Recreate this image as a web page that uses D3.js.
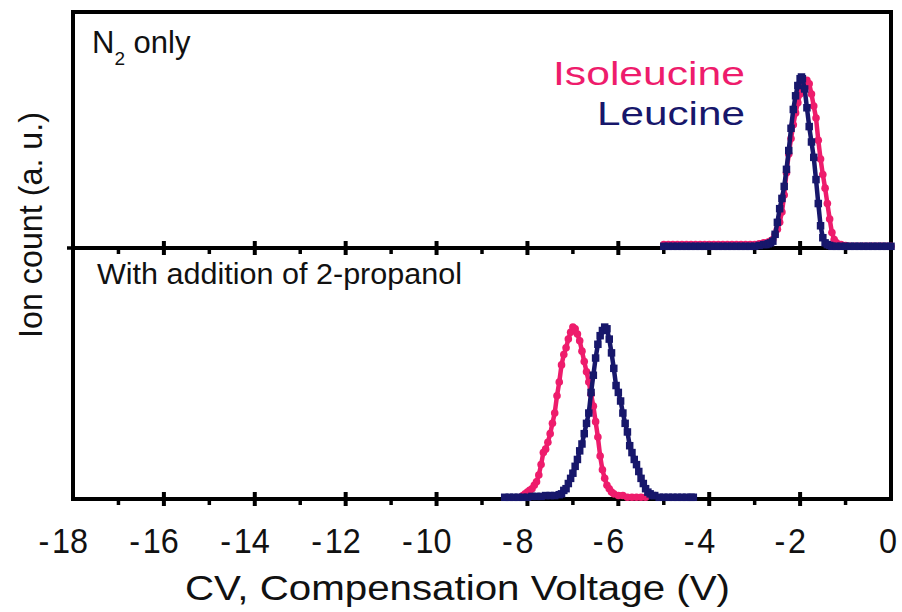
<!DOCTYPE html>
<html>
<head>
<meta charset="utf-8">
<script src="https://cdn.jsdelivr.net/npm/d3@7"></script>
<style>
  body { margin: 0; background: #fff; }
  svg { display: block; }
  text { font-family: "Liberation Sans", Arial, sans-serif; }
</style>
</head>
<body>
<svg id="chart" width="902" height="612"></svg>
<script>
// Compensation-voltage axis
const majorTicks = [-18, -16, -14, -12, -10, -8, -6, -4, -2, 0];
const minorTicks = [-17, -15, -13, -11, -9, -7, -5, -3, -1];
const tickLabels = ["-18", "-16", "-14", "-12", "-10", "-8", "-6", "-4", "-2", "0"];

// Series names
const seriesNames = ["Isoleucine", "Leucine"];
const panelTitles = ["only", "With addition of 2-propanol"];

// N2 only: [CV (V), normalised ion count]
const n2Isoleucine = [
  [-5.0,0.02],[-4.9,0.02],[-4.8,0.02],[-4.7,0.02],[-4.6,0.02],[-4.5,0.02],[-4.4,0.02],[-4.3,0.02],
  [-4.2,0.02],[-4.1,0.02],[-4.0,0.02],[-3.9,0.02],[-3.8,0.02],[-3.7,0.02],[-3.6,0.02],[-3.5,0.02],
  [-3.4,0.02],[-3.3,0.02],[-3.2,0.02],[-3.1,0.02],[-3.0,0.02],[-2.9,0.025],[-2.8,0.03],[-2.7,0.035],
  [-2.65,0.04],[-2.6,0.05],[-2.55,0.08],[-2.5,0.11],[-2.45,0.15],[-2.4,0.21],[-2.35,0.31],[-2.3,0.44],
  [-2.25,0.55],[-2.2,0.64],[-2.15,0.72],[-2.1,0.79],[-2.05,0.85],[-2.0,0.90],[-1.95,0.94],[-1.9,0.97],
  [-1.85,0.98],[-1.8,0.96],[-1.75,0.90],[-1.7,0.83],[-1.65,0.76],[-1.6,0.63],[-1.55,0.52],[-1.5,0.43],
  [-1.45,0.35],[-1.4,0.26],[-1.35,0.17],[-1.3,0.09],[-1.25,0.05],[-1.2,0.03],[-1.1,0.02],[-1.0,0.015],
  [-0.9,0.01],[-0.8,0.01],[-0.7,0.01],[-0.6,0.01],[-0.5,0.01],[-0.4,0.01],[-0.3,0.01],[-0.2,0.01],
  [-0.1,0.01],[0.0,0.01]
];
const n2Leucine = [
  [-5.0,0.01],[-4.9,0.01],[-4.8,0.01],[-4.7,0.01],[-4.6,0.01],[-4.5,0.01],[-4.4,0.01],[-4.3,0.01],
  [-4.2,0.01],[-4.1,0.01],[-4.0,0.01],[-3.9,0.01],[-3.8,0.01],[-3.7,0.01],[-3.6,0.01],[-3.5,0.01],
  [-3.4,0.01],[-3.3,0.01],[-3.2,0.01],[-3.1,0.01],[-3.0,0.01],[-2.9,0.015],[-2.8,0.02],[-2.75,0.02],
  [-2.7,0.025],[-2.65,0.03],[-2.6,0.04],[-2.55,0.08],[-2.5,0.15],[-2.45,0.23],[-2.4,0.29],[-2.35,0.36],
  [-2.3,0.46],[-2.25,0.57],[-2.2,0.70],[-2.15,0.81],[-2.1,0.89],[-2.05,0.95],[-2.0,0.99],[-1.97,1.0],
  [-1.95,0.99],[-1.9,0.93],[-1.85,0.82],[-1.8,0.71],[-1.75,0.62],[-1.7,0.53],[-1.65,0.40],[-1.6,0.26],
  [-1.55,0.13],[-1.5,0.06],[-1.45,0.03],[-1.4,0.02],[-1.35,0.015],[-1.3,0.01],[-1.2,0.01],[-1.1,0.01],
  [-1.0,0.01],[-0.9,0.01],[-0.8,0.01],[-0.7,0.01],[-0.6,0.01],[-0.5,0.01],[-0.4,0.01],[-0.3,0.01],
  [-0.2,0.01],[-0.1,0.01],[0.0,0.01]
];

// With 2-propanol modifier
const propIsoleucine = [
  [-8.15,0.01],[-8.1,0.02],[-8.05,0.03],[-8.0,0.04],[-7.95,0.05],[-7.9,0.06],[-7.85,0.08],[-7.8,0.10],
  [-7.75,0.14],[-7.7,0.20],[-7.65,0.27],[-7.6,0.29],[-7.55,0.33],[-7.5,0.38],[-7.45,0.44],[-7.4,0.50],
  [-7.35,0.60],[-7.3,0.68],[-7.25,0.78],[-7.2,0.84],[-7.15,0.88],[-7.1,0.93],[-7.05,0.97],[-7.0,1.0],
  [-6.95,0.99],[-6.9,0.96],[-6.85,0.92],[-6.8,0.86],[-6.75,0.80],[-6.7,0.74],[-6.65,0.68],[-6.6,0.61],
  [-6.55,0.54],[-6.5,0.45],[-6.45,0.36],[-6.4,0.25],[-6.35,0.17],[-6.3,0.12],[-6.25,0.08],[-6.2,0.06],
  [-6.15,0.04],[-6.1,0.03],[-6.0,0.02],[-5.9,0.02],[-5.8,0.01],[-5.7,0.01],[-5.6,0.01],[-5.5,0.01],
  [-5.4,0.01]
];
const propLeucine = [
  [-8.5,0.01],[-8.4,0.01],[-8.3,0.01],[-8.2,0.01],[-8.1,0.01],[-8.0,0.01],[-7.9,0.015],[-7.8,0.015],
  [-7.7,0.015],[-7.6,0.02],[-7.5,0.02],[-7.4,0.02],[-7.3,0.025],[-7.25,0.03],[-7.2,0.05],[-7.15,0.06],
  [-7.1,0.09],[-7.05,0.12],[-7.0,0.15],[-6.95,0.19],[-6.9,0.23],[-6.85,0.28],[-6.8,0.32],[-6.75,0.38],
  [-6.7,0.44],[-6.65,0.50],[-6.6,0.62],[-6.55,0.72],[-6.5,0.82],[-6.45,0.90],[-6.4,0.95],[-6.35,0.98],
  [-6.3,1.0],[-6.25,0.99],[-6.2,0.93],[-6.15,0.85],[-6.1,0.76],[-6.05,0.66],[-6.0,0.62],[-5.95,0.57],
  [-5.9,0.50],[-5.85,0.44],[-5.8,0.39],[-5.75,0.31],[-5.7,0.27],[-5.65,0.23],[-5.6,0.20],[-5.55,0.16],
  [-5.5,0.12],[-5.45,0.09],[-5.4,0.06],[-5.35,0.04],[-5.3,0.03],[-5.25,0.02],[-5.2,0.02],[-5.1,0.01],
  [-5.0,0.01],[-4.9,0.01],[-4.8,0.01],[-4.7,0.01],[-4.6,0.01],[-4.5,0.01],[-4.4,0.01],[-4.35,0.01]
];

const PINK = "#ee1c6c";
const NAVY = "#17176b";

const svg = d3.select("#chart");

const plotLeft = 73, plotRight = 891, plotTop = 12, plotMid = 248, plotBottom = 499;

const x = d3.scaleLinear().domain([-18, 0]).range([plotLeft, plotRight]);
const yTop = d3.scaleLinear().domain([0, 1.38]).range([plotMid, plotTop]);
const yBot = d3.scaleLinear().domain([0, 1.46]).range([plotBottom, plotMid]);

// Frame
svg.append("rect")
  .attr("x", plotLeft).attr("y", plotTop)
  .attr("width", plotRight - plotLeft).attr("height", plotBottom - plotTop)
  .attr("fill", "none").attr("stroke", "#000").attr("stroke-width", 4);

// Horizontal axes (panel divider and bottom axis) with crossing major ticks
[plotMid, plotBottom].forEach(yy => {
  const g = svg.append("g");
  g.append("line")
    .attr("x1", plotLeft).attr("x2", plotRight).attr("y1", yy).attr("y2", yy)
    .attr("stroke", "#000").attr("stroke-width", 4);
  g.selectAll("line.major").data(majorTicks.slice(1, -1)).join("line")
    .attr("class", "major")
    .attr("x1", d => x(d)).attr("x2", d => x(d))
    .attr("y1", yy - 7).attr("y2", yy + 7)
    .attr("stroke", "#000").attr("stroke-width", 4);
  g.selectAll("line.minor").data(minorTicks).join("line")
    .attr("class", "minor")
    .attr("x1", d => x(d)).attr("x2", d => x(d))
    .attr("y1", yy).attr("y2", yy + 6)
    .attr("stroke", "#000").attr("stroke-width", 3.5);
});

// Left tick at the panel divider
svg.append("line")
  .attr("x1", plotLeft - 6).attr("x2", plotLeft).attr("y1", plotMid).attr("y2", plotMid)
  .attr("stroke", "#000").attr("stroke-width", 3.5);

// Tick labels: digits centred under the tick, minus sign hanging to the left
const tickG = svg.append("g");
const sx = 0.9, gap = 3;
majorTicks.forEach((v, i) => {
  const label = tickLabels[i];
  const neg = label.startsWith("-");
  const digitsText = neg ? label.slice(1) : label;
  const t = tickG.append("text").attr("font-size", 36).attr("y", 553).attr("fill", "#111");
  if (neg) t.append("tspan").text("-");
  const dSpan = t.append("tspan").attr("dx", neg ? gap : 0).text(digitsText);
  const full = t.node().getComputedTextLength() + (neg ? gap : 0);
  const digits = dSpan.node().getComputedTextLength();
  const cx = x(v) - 3;
  const startX = cx - sx * (full - digits) - sx * digits / 2;
  t.attr("transform", `translate(${startX},0) scale(${sx},1)`);
});

// Series
function drawSeries(data, yScale, color, shape) {
  const line = d3.line().x(d => x(d[0])).y(d => yScale(d[1]));
  const g = svg.append("g");
  g.append("path").datum(data)
    .attr("d", line)
    .attr("fill", "none").attr("stroke", color)
    .attr("stroke-width", 4.5).attr("stroke-linejoin", "round");
  if (shape === "circle") {
    g.selectAll("circle").data(data).join("circle")
      .attr("cx", d => x(d[0])).attr("cy", d => yScale(d[1]))
      .attr("r", 3.8).attr("fill", color);
  } else {
    const s = 7.5;
    g.selectAll("rect").data(data).join("rect")
      .attr("x", d => x(d[0]) - s / 2).attr("y", d => yScale(d[1]) - s / 2)
      .attr("width", s).attr("height", s).attr("fill", color);
  }
}

drawSeries(n2Isoleucine, yTop, PINK, "circle");
drawSeries(n2Leucine, yTop, NAVY, "square");
drawSeries(propIsoleucine, yBot, PINK, "circle");
drawSeries(propLeucine, yBot, NAVY, "square");

// Panel titles
const n2 = svg.append("text").attr("x", 92).attr("y", 53).attr("font-size", 31).attr("fill", "#111");
n2.append("tspan").text("N");
n2.append("tspan").attr("font-size", 19).attr("dy", 12).text("2");
n2.append("tspan").attr("dy", -12).text("\u00a0" + panelTitles[0]);

svg.append("text")
  .attr("x", 97).attr("y", 284)
  .attr("font-size", 30).attr("fill", "#111")
  .attr("textLength", 365).attr("lengthAdjust", "spacingAndGlyphs")
  .text(panelTitles[1]);

// Legend labels
svg.append("text")
  .attr("x", 553).attr("y", 85)
  .attr("font-size", 34).attr("fill", PINK)
  .attr("textLength", 192).attr("lengthAdjust", "spacingAndGlyphs")
  .text(seriesNames[0]);
svg.append("text")
  .attr("x", 597).attr("y", 125)
  .attr("font-size", 34).attr("fill", NAVY)
  .attr("textLength", 148).attr("lengthAdjust", "spacingAndGlyphs")
  .text(seriesNames[1]);

// Axis titles
svg.append("text")
  .attr("x", 185).attr("y", 600)
  .attr("font-size", 35).attr("fill", "#111")
  .attr("textLength", 545).attr("lengthAdjust", "spacingAndGlyphs")
  .text("CV, Compensation Voltage (V)");

svg.append("text")
  .attr("transform", "translate(42,338) rotate(-90)")
  .attr("font-size", 34).attr("fill", "#111")
  .attr("textLength", 226).attr("lengthAdjust", "spacingAndGlyphs")
  .text("Ion count (a. u.)");
</script>
</body>
</html>
